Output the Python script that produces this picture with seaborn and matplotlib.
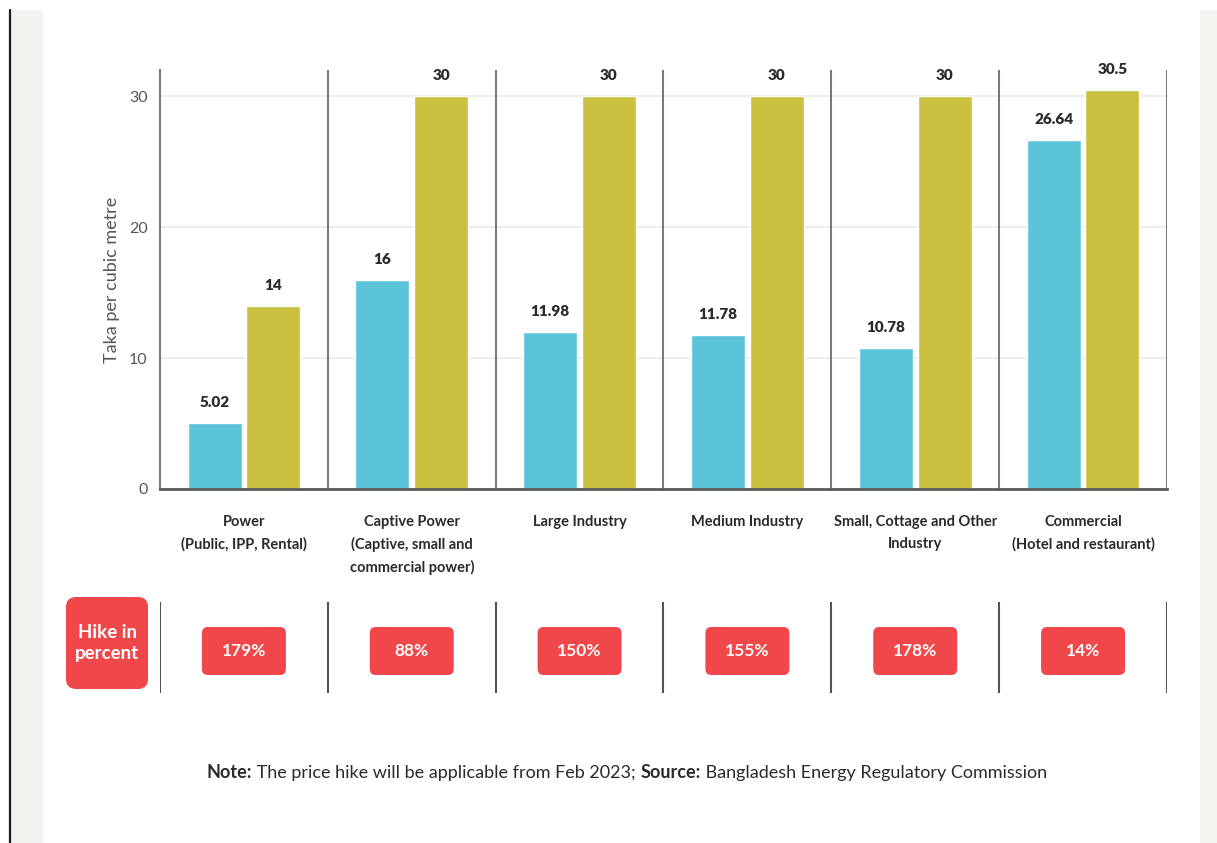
import matplotlib
matplotlib.use("Agg")
import matplotlib.pyplot as plt
from matplotlib.patches import FancyBboxPatch, Rectangle
from matplotlib.lines import Line2D
import seaborn as sns
import pandas as pd

# Gas tariff by consumer category (Taka per cubic metre)
categories = [
    "Power\n(Public, IPP, Rental)",
    "Captive Power\n(Captive, small and\ncommercial power)",
    "Large Industry",
    "Medium Industry",
    "Small, Cottage and Other\nIndustry",
    "Commercial\n(Hotel and restaurant)",
]
old_price = [5.02, 16, 11.98, 11.78, 10.78, 26.64]
new_price = [14, 30, 30, 30, 30, 30.5]
hike_labels = ["179%", "88%", "150%", "155%", "178%", "14%"]
series_names = ["Previous", "New"]

CYAN = "#5bc4d9"
OLIVE = "#c9c040"
RED = "#f0484a"
FONT = "Lato"

sns.set_theme(style="white")
plt.rcParams["font.family"] = [FONT, "DejaVu Sans"]

df = pd.DataFrame({
    "category": categories * 2,
    "series": [series_names[0]] * len(categories) + [series_names[1]] * len(categories),
    "value": old_price + new_price,
})

W, H = 1217, 843
fig = plt.figure(figsize=(W / 100, H / 100), dpi=100, facecolor="white")

# page frame: left rule and pale side bands
fig.add_artist(Rectangle((10 / W, 0), 33 / W, 833 / H, transform=fig.transFigure,
                         facecolor="#f4f2ee", edgecolor="none", zorder=0))
fig.add_artist(Rectangle((1200 / W, 0), 17 / W, 833 / H, transform=fig.transFigure,
                         facecolor="#f4f3ef", edgecolor="none", zorder=0))
fig.add_artist(Line2D([9.5 / W, 9.5 / W], [0, 833 / H], transform=fig.transFigure,
                      color="#1a1a1a", lw=1.6, zorder=1))

# main bar chart
ax_l, ax_r, ax_t, ax_b = 160, 1167, 70, 489
ax = fig.add_axes([ax_l / W, (H - ax_b) / H, (ax_r - ax_l) / W, (ax_b - ax_t) / H])
ax.set_facecolor("none")
sns.barplot(data=df, x="category", y="value", hue="series", palette=[CYAN, OLIVE],
            width=0.7, gap=0.08, saturation=1, legend=False, ax=ax, zorder=3)

for container, vals in zip(ax.containers, [old_price, new_price]):
    ax.bar_label(container, labels=[f"{v:g}" for v in vals], padding=10,
                 fontsize=11, fontweight="heavy", color="#2b2b2b")

ax.set_xlim(-0.5, len(categories) - 0.5)
ax.set_ylim(0, 32)
ax.set_yticks([0, 10, 20, 30])
ax.set_yticklabels(["0", "10", "20", "30"])
ax.tick_params(axis="y", length=0, pad=9, labelsize=11.5, labelcolor="#555555")
ax.set_ylabel("Taka per cubic metre", fontsize=13, color="#555555", labelpad=6)
ax.yaxis.grid(True, color="#ececec", lw=1.4, zorder=0)
ax.set_axisbelow(True)

ax.set_xlabel("")
ax.tick_params(axis="x", which="major", length=0, pad=19, labelsize=10.5,
               labelcolor="#2a2a2a")
for lbl in ax.get_xticklabels():
    lbl.set_fontweight("bold")
    lbl.set_linespacing(1.65)
    lbl.set_va("top")

seps = [i - 0.5 for i in range(len(categories) + 1)]
ax.set_xticks(seps, minor=True)
ax.tick_params(axis="x", which="minor", length=6, width=1.4, color="#666666", direction="out")
for s in seps[1:]:
    ax.axvline(s, color="#7a7a7a", lw=1.5, zorder=2)

for side in ["top", "right"]:
    ax.spines[side].set_visible(False)
ax.spines["left"].set_color("#7a7a7a")
ax.spines["left"].set_linewidth(1.5)
ax.spines["bottom"].set_color("#5a5a5a")
ax.spines["bottom"].set_linewidth(2)
ax.spines["bottom"].set_zorder(4)

# percentage hike strip
st_t, st_b = 602, 693
ax2 = fig.add_axes([ax_l / W, (H - st_b) / H, (ax_r - ax_l) / W, (st_b - st_t) / H])
ax2.set_xlim(-0.5, len(categories) - 0.5)
ax2.set_ylim(0, 1)
ax2.axis("off")
px_x = (ax_r - ax_l) / len(categories)   # pixels per x unit
px_y = (st_b - st_t)                     # pixels per y unit
aspect = px_x / px_y
for s in seps:
    ax2.plot([s, s], [0, 1], color="#555555", lw=1.5, solid_capstyle="butt")

bw, by0, by1 = 84 / px_x, (st_b - 675) / px_y, (st_b - 627) / px_y
for i, txt in enumerate(hike_labels):
    ax2.add_patch(FancyBboxPatch((i - bw / 2, by0), bw, by1 - by0,
                                 boxstyle=f"round,pad=0,rounding_size={6 / px_x}",
                                 mutation_aspect=aspect, facecolor=RED, edgecolor="none",
                                 zorder=3))
    ax2.text(i, (by0 + by1) / 2, txt, ha="center", va="center", color="white",
             fontsize=12.5, fontweight="bold", zorder=4)

hx0 = -0.5 - (ax_l - 66) / px_x
hx1 = -0.5 - (ax_l - 148) / px_x
hy0, hy1 = (st_b - 689) / px_y, (st_b - 597) / px_y
ax2.add_patch(FancyBboxPatch((hx0, hy0), hx1 - hx0, hy1 - hy0,
                             boxstyle=f"round,pad=0,rounding_size={10 / px_x}",
                             mutation_aspect=aspect, facecolor=RED, edgecolor="none",
                             clip_on=False, zorder=3))
ax2.text((hx0 + hx1) / 2, (hy0 + hy1) / 2, "Hike in\npercent", ha="center", va="center",
         color="white", fontsize=13.5, fontweight="bold", linespacing=1.35, clip_on=False,
         zorder=4)

# footnote with bold lead-ins
parts = [("Note:", "bold"), (" The price hike will be applicable from Feb 2023; ", "normal"),
         ("Source:", "bold"), (" Bangladesh Energy Regulatory Commission", "normal")]
fig.canvas.draw()
renderer = fig.canvas.get_renderer()
texts = []
for s, w in parts:
    t = fig.text(0, 1 - 773 / H, s, fontsize=13, fontweight=w, color="#2a2a2a",
                 va="center", ha="left")
    texts.append(t)
widths = [t.get_window_extent(renderer).width for t in texts]
x = 627 - sum(widths) / 2
for t, wd in zip(texts, widths):
    t.set_x(x / W)
    x += wd

fig.savefig("out.png", dpi=100, facecolor="white")
